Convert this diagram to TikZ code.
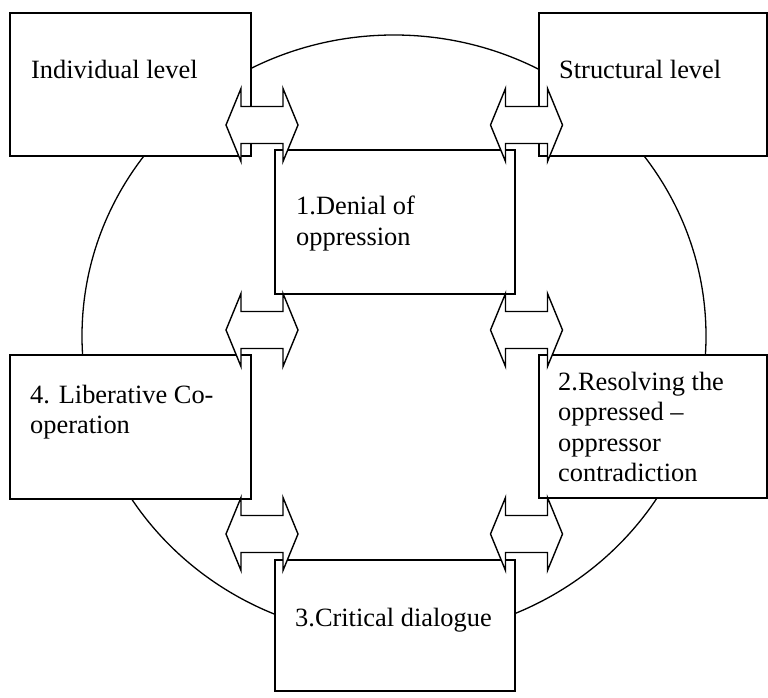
\documentclass[tikz,border=0pt]{standalone}
\usepackage{fontspec}
\setmainfont{Liberation Serif}
\begin{document}
\begin{tikzpicture}[x=1pt,y=-1pt,
  boxstyle/.style={draw,line width=1.6pt,fill=white,rectangle,inner sep=0pt,anchor=north west},
  labeltext/.style={inner sep=0pt,anchor=north west,align=left,font=\fontsize{26.4}{30.5}\selectfont},
  ringline/.style={line width=1.3pt},
  arrowline/.style={draw,line width=1.4pt,fill=white,line join=miter},
  pics/dblarrow/.style={code={
    \path[arrowline] (-36,0) -- (-21,-36.5) -- (-21,-18.5) -- (21,-18.5) -- (21,-36.5) -- (36,0)
      -- (21,36.5) -- (21,18.5) -- (-21,18.5) -- (-21,36.5) -- cycle;}}]
\useasboundingbox (0,0) rectangle (768,698);
% ring
\draw[ringline] (394,336) ellipse [x radius=312, y radius=301];
% boxes
\node[boxstyle,minimum width=241,minimum height=143] (indiv) at (9,12) {};
\node[boxstyle,minimum width=228,minimum height=143] (struct) at (538,12) {};
\node[boxstyle,minimum width=240,minimum height=144] (denial) at (274,149) {};
\node[boxstyle,minimum width=241,minimum height=144] (liber) at (9,354) {};
\node[boxstyle,minimum width=228,minimum height=143] (resolve) at (538,354) {};
\node[boxstyle,minimum width=240,minimum height=131] (critic) at (274,559) {};
% texts
\node[labeltext] (indivtext) at (31,59.9) {Individual level};
\node[labeltext] (structtext) at (559,59.9) {Structural level};
\node[labeltext] (denialtext) at (296,195.9) {1.Denial of\\oppression};
\node[labeltext] (resolvetext) at (558,371.9) {2.Resolving the\\oppressed --\\oppressor\\contradiction};
\node[labeltext] (critictext) at (295,607.9) {3.Critical dialogue};
\node[labeltext] (libertext) at (30,384.9) {4. Liberative Co-\\operation};
% double arrows
\pic (a1) at (262,125) {dblarrow};
\pic (a2) at (526.5,125) {dblarrow};
\pic (a3) at (262,330) {dblarrow};
\pic (a4) at (526.5,330) {dblarrow};
\pic (a5) at (262,534) {dblarrow};
\pic (a6) at (526.5,534) {dblarrow};
\end{tikzpicture}
\end{document}
